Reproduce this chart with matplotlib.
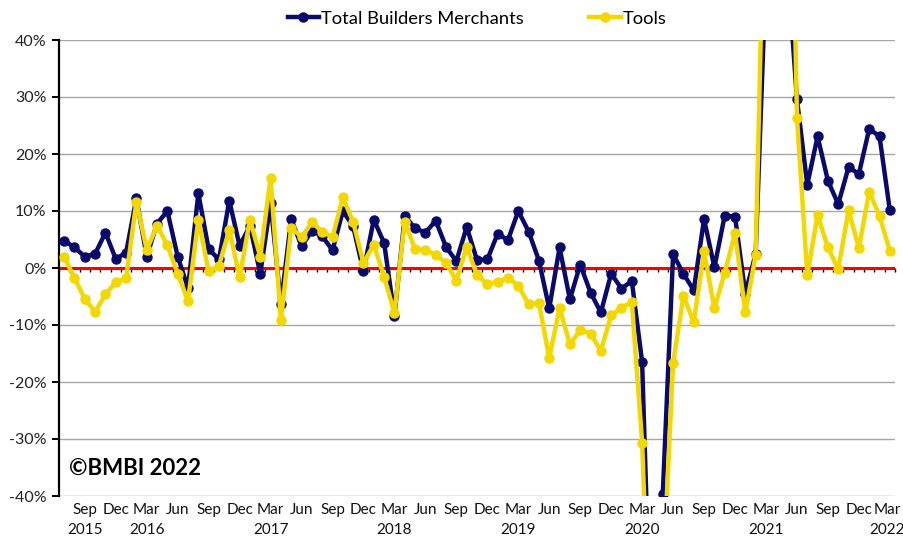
import numpy as np
import pandas as pd
import matplotlib
matplotlib.use("Agg")
import matplotlib.pyplot as plt
import matplotlib.transforms as mtransforms

plt.rcParams['font.family'] = ['Lato', 'DejaVu Sans']

# monthly year-on-year change, Jul 2015 .. Mar 2022
months = pd.date_range('2015-07-01', '2022-03-01', freq='MS')

total_bm = [4.8, 3.6, 2.0, 2.5, 6.2, 1.6, 2.7, 12.2, 2.0, 7.8,
            10.0, 2.0, -3.5, 13.1, 3.3, 1.5, 11.8, 3.9, 7.4, -1.0,
            11.4, -6.3, 8.6, 3.8, 6.5, 5.6, 3.1, 10.0, 7.3, -0.6,
            8.5, 4.4, -8.4, 9.1, 7.0, 6.2, 8.3, 3.7, 1.2, 7.2,
            1.4, 1.5, 6.0, 4.9, 10.0, 6.4, 1.3, -7.1, 3.6, -5.5,
            0.6, -4.3, -7.8, -1.0, -3.6, -2.3, -16.5, -75.0, -39.7, 2.4,
            -1.0, -3.9, 8.6, 0.1, 9.2, 9.0, -4.5, 2.5, 52.0, 150.0,
            55.0, 29.6, 14.6, 23.1, 15.3, 11.2, 17.7, 16.5, 24.4, 23.1,
            10.1]

tools = [2.0, -1.8, -5.4, -7.7, -4.6, -2.5, -1.8, 11.6, 3.2, 7.4,
         4.0, -1.0, -5.8, 8.5, -0.6, 0.4, 6.7, -1.6, 8.5, 2.0,
         15.8, -9.2, 7.1, 5.4, 8.0, 6.4, 5.4, 12.4, 8.1, 0.9,
         4.1, -1.5, -7.9, 8.1, 3.3, 3.2, 2.3, 0.9, -2.2, 3.7,
         -1.2, -2.8, -2.4, -1.7, -3.1, -6.4, -6.1, -15.8, -7.0, -13.4,
         -10.9, -11.5, -14.5, -8.3, -7.0, -6.0, -30.7, -80.0, -55.0, -16.7,
         -4.9, -9.5, 2.9, -7.1, -0.8, 6.1, -7.8, 2.3, 80.0, 200.0,
         120.0, 26.4, -1.2, 9.3, 3.6, -0.2, 10.1, 3.5, 13.4, 9.1,
         3.0]

y_ticks = [-40, -30, -20, -10, 0, 10, 20, 30, 40]

navy = '#0A0A6B'
yellow = '#F2D800'

x = np.arange(len(months))

fig = plt.figure(figsize=(9.04, 5.42), dpi=100)
ax = fig.add_axes([59 / 904, 1 - 496 / 542, (895 - 59) / 904, (496 - 40) / 542])

ax.axhline(0, color='#FF0000', lw=2.2, zorder=2)
ax.plot(x, total_bm, color=navy, lw=3.2, marker='o', ms=6.5, zorder=3,
        label='Total Builders Merchants')
ax.plot(x, tools, color=yellow, lw=3.2, marker='o', ms=6.5, zorder=4,
        label='Tools')

ax.set_xlim(-0.5, len(months) - 0.5)
ax.set_ylim(-40, 40)
ax.set_yticks(y_ticks)
ax.set_yticklabels([f'{v}%' for v in y_ticks], fontsize=11.5, color='#222222')
ax.yaxis.grid(True, color='#A6A6A6', lw=1)
ax.set_axisbelow(True)
for s in ['top', 'right', 'bottom']:
    ax.spines[s].set_visible(False)
ax.spines['left'].set_linewidth(1.6)
ax.tick_params(axis='y', direction='out', length=5, width=1.4, pad=4)

# quarterly labels at the bottom
pos = [i for i, m in enumerate(months) if m.month in (3, 6, 9, 12)]
labels = []
for k, i in enumerate(pos):
    m = months[i]
    lab = m.strftime('%b')
    if m.month == 3 or k == 0:
        lab += '\n' + m.strftime('%Y')
    labels.append(lab)
ax.set_xticks(pos)
ax.set_xticklabels(labels, fontsize=11, va='top', linespacing=1.55,
                   color='#111111')
ax.tick_params(axis='x', length=0, pad=5)

# keep the last label inside the canvas
last = ax.get_xticklabels()[-1]
last.set_transform(last.get_transform() +
                   mtransforms.ScaledTranslation(-3 / 100, 0, fig.dpi_scale_trans))

# monthly tick marks on the zero line
sec = ax.secondary_xaxis(0, transform=ax.transData)
sec.set_xticks(np.arange(-0.5, len(months), 1))
sec.tick_params(direction='out', length=3, width=1, color='black', labelbottom=False)
sec.spines['bottom'].set_visible(False)

ax.legend(loc='lower center', bbox_to_anchor=(0.5, 1.005), ncol=2, frameon=False,
          fontsize=13.2, handlelength=1.7, columnspacing=3.6, handletextpad=0.1,
          borderaxespad=0.2)

ax.text(0.012, 0.06, '©BMBI 2022', transform=ax.transAxes, fontsize=16,
        fontweight='bold', color='black', ha='left', va='center')

fig.savefig('out.png', dpi=100)
